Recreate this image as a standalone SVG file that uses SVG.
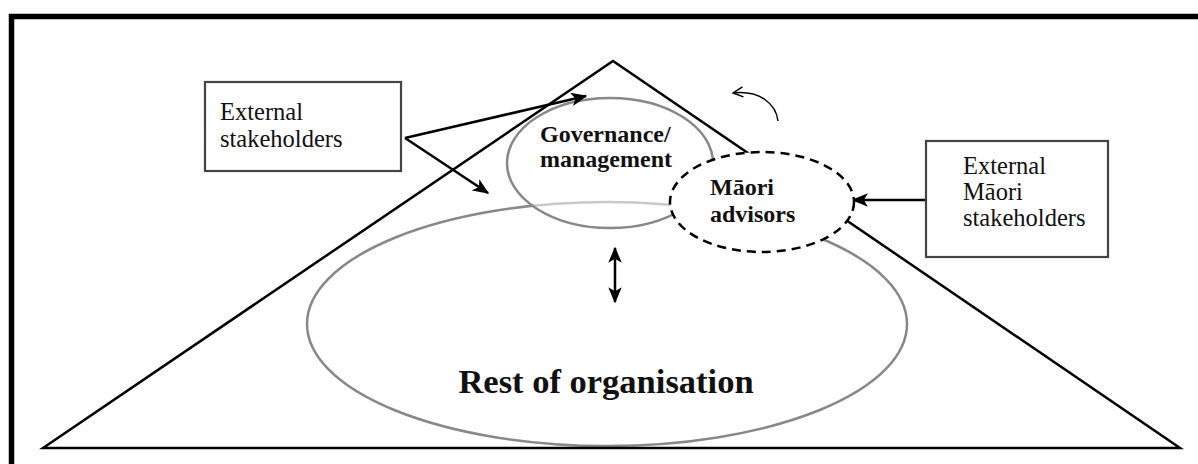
<svg xmlns="http://www.w3.org/2000/svg" width="1198" height="464" viewBox="0 0 1198 464">
<style>
.box{fill:#fff;stroke:#444;stroke-width:2.2}
.bt{font-family:"Liberation Serif","Times New Roman","DejaVu Serif",serif;font-size:24.5px;fill:#111}
.lbl{font-family:"Liberation Serif","Times New Roman","DejaVu Serif",serif;font-weight:bold;font-size:24px;fill:#111}
.big{font-family:"Liberation Serif","Times New Roman","DejaVu Serif",serif;font-weight:bold;font-size:34.5px;fill:#111}
.conn{stroke:#000;stroke-width:2.5;fill:none}
.gray{fill:none;stroke:#888;stroke-width:2.5}
</style>
<defs>
<marker id="ah" viewBox="0 0 12 10" refX="11" refY="5" markerWidth="6.5" markerHeight="5.4" orient="auto-start-reverse" markerUnits="strokeWidth">
<path d="M0,0 L12,5 L0,10 L3,5 z" fill="#000"/>
</marker>
<marker id="open" viewBox="0 0 12 12" refX="11" refY="6" markerWidth="12" markerHeight="12" orient="auto" markerUnits="userSpaceOnUse">
<path d="M1,1 L11,6 L1,11" fill="none" stroke="#000" stroke-width="1.5"/>
</marker>
</defs>
<rect x="0" y="0" width="1198" height="464" fill="#fff"/>
<rect x="11.5" y="16.5" width="1200" height="470" fill="none" stroke="#000" stroke-width="5.5"/>

<g id="rest">
<ellipse cx="607" cy="324" rx="300" ry="122" class="gray"/>
</g>
<g id="governance">
<ellipse cx="610" cy="163" rx="103" ry="65" fill="#fff" fill-opacity="0.55" stroke="#888" stroke-width="2.5"/>
</g>
<g id="pyramid">
<polygon points="43,448 613,61 1180,448" fill="none" stroke="#000" stroke-width="2.5" stroke-linejoin="miter"/>
</g>

<g id="connectors">
<line x1="405" y1="138" x2="586" y2="96" class="conn" marker-end="url(#ah)"/>
<line x1="405" y1="138" x2="488" y2="193" class="conn" marker-end="url(#ah)"/>
<line x1="928" y1="200" x2="853" y2="200" class="conn" marker-end="url(#ah)"/>
<line x1="615" y1="248" x2="615" y2="302" class="conn" marker-start="url(#ah)" marker-end="url(#ah)"/>
<path d="M778,121 C776,104 760,90 733,93" fill="none" stroke="#000" stroke-width="1.5" marker-end="url(#open)"/>
</g>

<g id="maori">
<ellipse cx="762" cy="202" rx="92" ry="50" fill="#fff" stroke="#000" stroke-width="2.5" stroke-dasharray="9,6"/>
<text class="lbl" x="710" y="195">Māori</text>
<text class="lbl" x="710" y="222">advisors</text>
</g>

<g id="governance-label">
<text class="lbl" x="540" y="142">Governance/</text>
<text class="lbl" x="540" y="167">management</text>
</g>

<g id="rest-label">
<text class="big" x="606" y="393" text-anchor="middle">Rest of organisation</text>
</g>

<g id="ext-stakeholders">
<rect class="box" x="205" y="82" width="196" height="89"/>
<text class="bt" x="220" y="120">External</text>
<text class="bt" x="220" y="147">stakeholders</text>
</g>

<g id="ext-maori">
<rect class="box" x="926" y="141" width="182" height="116"/>
<text class="bt" x="963" y="174">External</text>
<text class="bt" x="963" y="200">Māori</text>
<text class="bt" x="963" y="226">stakeholders</text>
</g>
</svg>
